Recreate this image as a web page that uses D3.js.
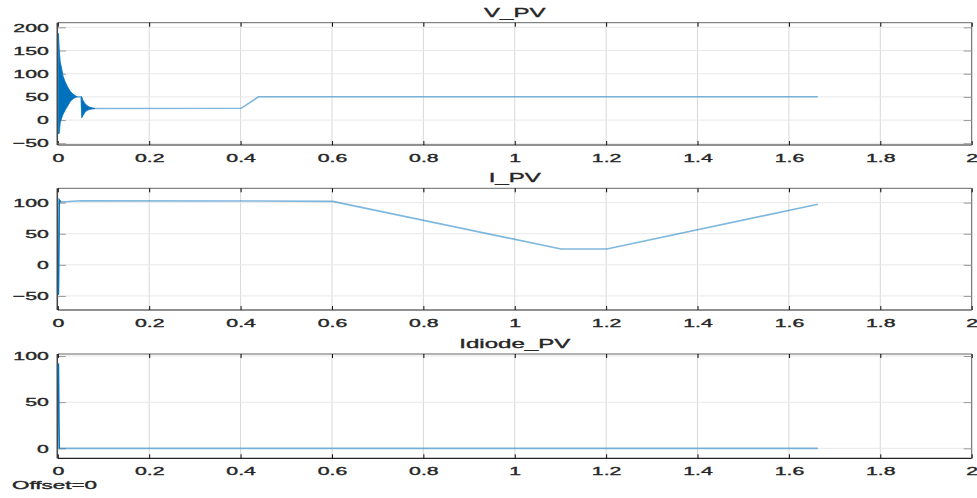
<!DOCTYPE html>
<html>
<head>
<meta charset="utf-8">
<script src="https://cdn.jsdelivr.net/npm/d3@7"></script>
<style>
  body { margin: 0; background: #fff; }
  svg { display: block; font-family: "Liberation Sans", Arial, sans-serif; }
</style>
</head>
<body>
<svg id="scope" width="977" height="498"></svg>
<script>
// x ticks shared by all three panels
const xTicks = [0, 0.2, 0.4, 0.6, 0.8, 1, 1.2, 1.4, 1.6, 1.8, 2];

// V_PV: oscillating start drawn as its envelope band, then the slow trace
const vBandT = [0, 0.002, 0.004, 0.007, 0.010, 0.015, 0.020, 0.026, 0.032, 0.038, 0.042];
const vBandHi = [187, 150, 125, 112, 95, 82, 72, 62, 56, 52, 50];
const vBandLo = [-30, -28, -5, 4, 12, 22, 30, 40, 46, 49, 50];
const vBand2T = [0.050, 0.051, 0.054, 0.058, 0.063, 0.068, 0.075, 0.080];
const vBand2Hi = [50, 50, 42, 36, 31, 28, 26, 25];
const vBand2Lo = [50, 5, 10, 17, 21, 23, 24.5, 25];
const vT = [0.042, 0.050, 0.051, 0.080, 0.400, 0.438, 1.662];
const vV = [50, 50, 25, 25, 25.4, 50.4, 50.2];

// I_PV
const iT = [0, 0.002, 0.005, 0.05, 0.44, 0.6, 1.1, 1.2, 1.662];
const iV = [-48, 104, 101, 103, 102.5, 102, 25.5, 25.5, 97.4];

// Idiode_PV
const dT = [0, 0.001, 0.002, 1.662];
const dV = [92, 30, 0, 0];

const svg = d3.select("#scope");
const left = 57.8, right = 971.7, sx = 1.85;
const blue = "#0072BD";

const x = d3.scaleLinear().domain([0, 2]).range([left, right]);

const panels = [
  { title: "V_PV", top: 22.7, bottom: 145, dom: [-53.7, 210], yTicks: [-50, 0, 50, 100, 150, 200],
    t: vT, v: vV, bands: [[vBandT, vBandHi, vBandLo], [vBand2T, vBand2Hi, vBand2Lo]] },
  { title: "I_PV", top: 188.3, bottom: 310, dom: [-72.6, 123], yTicks: [-50, 0, 50, 100],
    t: iT, v: iV, bands: [] },
  { title: "Idiode_PV", top: 354, bottom: 458.3, dom: [-10.8, 102.2], yTicks: [0, 50, 100],
    t: dT, v: dV, bands: [] }
];

function styleText(sel) {
  sel.attr("fill", "#262626").attr("stroke", "#262626").attr("stroke-width", 0.35)
    .attr("font-family", "Liberation Sans, Arial, sans-serif");
}

panels.forEach(p => {
  const y = d3.scaleLinear().domain(p.dom).range([p.bottom, p.top]);
  const g = svg.append("g");

  // grid
  g.selectAll(".gx").data(xTicks).enter().append("line")
    .attr("x1", d => x(d)).attr("x2", d => x(d))
    .attr("y1", p.top).attr("y2", p.bottom)
    .attr("stroke", "#d8d8d8").attr("stroke-width", 1);
  g.selectAll(".gy").data(p.yTicks).enter().append("line")
    .attr("x1", left).attr("x2", right)
    .attr("y1", d => y(d)).attr("y2", d => y(d))
    .attr("stroke", "#e8e8e8").attr("stroke-width", 1);

  // frame
  g.append("line").attr("x1", left).attr("x2", right).attr("y1", p.top).attr("y2", p.top)
    .attr("stroke", "#666");
  g.append("line").attr("x1", right).attr("x2", right).attr("y1", p.top).attr("y2", p.bottom)
    .attr("stroke", "#666");
  g.append("line").attr("x1", left).attr("x2", right).attr("y1", p.bottom).attr("y2", p.bottom)
    .attr("stroke", "#222").attr("stroke-width", 1.2);
  g.append("line").attr("x1", left - 0.6).attr("x2", left - 0.6).attr("y1", p.top).attr("y2", p.bottom)
    .attr("stroke", "#222").attr("stroke-width", 1.2);

  // axes
  const ax = g.append("g").attr("transform", `translate(0,${p.bottom})`)
    .call(d3.axisBottom(x).tickValues(xTicks).tickFormat(d3.format("~g"))
      .tickSizeInner(-4).tickSizeOuter(0).tickPadding(8.5));
  const ay = g.append("g").attr("transform", `translate(${left},0)`)
    .call(d3.axisLeft(y).tickValues(p.yTicks).tickSizeInner(-8).tickSizeOuter(0).tickPadding(9));
  g.append("g").attr("transform", `translate(0,${p.top})`)
    .call(d3.axisTop(x).tickValues(xTicks).tickFormat("").tickSizeInner(-4).tickSizeOuter(0));
  g.append("g").attr("transform", `translate(${right},0)`)
    .call(d3.axisRight(y).tickValues(p.yTicks).tickFormat("").tickSizeInner(-8).tickSizeOuter(0));

  g.selectAll(".domain").remove();
  ax.selectAll(".tick line").attr("stroke", "#111");
  g.selectAll("g.tick line").filter(function () {
    return this.getAttribute("x2") !== null && +this.getAttribute("x2") !== 0;
  }).attr("stroke", "#999");

  ax.selectAll("text").attr("font-size", 11.5).call(styleText)
    .attr("transform", `scale(${sx},1)`);
  ay.selectAll("text").attr("font-size", 11.5).call(styleText)
    .attr("x", -9 / sx).attr("transform", `scale(${sx},1)`);

  // signal (on top of the frame)
  const line = d3.line().x(d => x(d[0]) + 0.6).y(d => y(d[1]));
  const pts = p.t.map((t, i) => [t, p.v[i]]);
  g.append("path").attr("d", line(pts))
    .attr("fill", "none").attr("stroke", blue)
    .attr("stroke-opacity", 0.5).attr("stroke-width", 1.6);
  g.append("path").attr("d", line(pts.filter(d => d[0] <= 0.005)))
    .attr("fill", "none").attr("stroke", blue).attr("stroke-width", 1.4);

  p.bands.forEach(b => {
    const area = d3.area()
      .x((t) => x(t) + 0.6)
      .y0((t, i) => y(b[2][i]))
      .y1((t, i) => y(b[1][i]));
    g.append("path").attr("d", area(b[0]))
      .attr("fill", blue).attr("stroke", blue).attr("stroke-width", 0.8);
  });

  svg.append("text")
    .attr("transform", `translate(${(left + right) / 2},${p.top - 6}) scale(${sx},1)`)
    .attr("text-anchor", "middle").attr("font-size", 13).call(styleText)
    .text(p.title);
});

svg.append("text")
  .attr("transform", `translate(12,489.3) scale(1.95,1)`)
  .attr("font-size", 11.5).call(styleText)
  .text("Offset=0");
</script>
</body>
</html>
